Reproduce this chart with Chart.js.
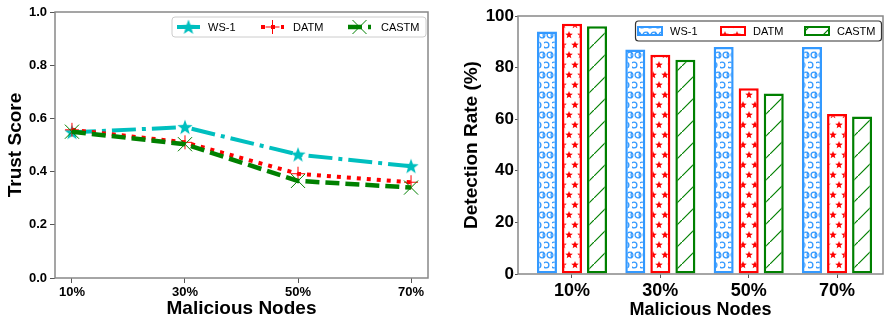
<!DOCTYPE html>
<html>
<head>
<meta charset="utf-8">
<script src="https://cdn.jsdelivr.net/npm/chart.js@4.4.1/dist/chart.umd.min.js"></script>
<style>
  body { margin: 0; background: #fff; }
  #wrap { position: relative; width: 884px; height: 321px; }
  .pane { position: absolute; top: 0; height: 321px; }
</style>
</head>
<body>
<div id="wrap">
  <div class="pane" style="left:0;width:440px"><canvas id="trustChart"></canvas></div>
  <div class="pane" style="left:440px;width:444px"><canvas id="detChart"></canvas></div>
</div>
<script>
// categories
const nodeLabels = ['10%', '30%', '50%', '70%'];
const seriesNames = ['WS-1', 'DATM', 'CASTM'];

// left: trust score
const trustWS1 = [0.548, 0.567, 0.464, 0.42];
const trustDATM = [0.557, 0.51, 0.392, 0.36];
const trustCASTM = [0.55, 0.503, 0.365, 0.34];

// right: detection rate (%)
const detWS1 = [94, 87, 88, 88];
const detDATM = [97, 85, 72, 62];
const detCASTM = [96, 83, 70, 61];

const FONT = "'Liberation Sans', Arial, sans-serif";
const CYAN = '#00bfbf', RED = '#ff0000', GREEN = '#008000', BLUE = '#3399ff';

function toPoints(arr) {
    return arr.map((v, i) => ({ x: i, y: v }));
}

function starPath(ctx, cx, cy, ro, ri) {
    ctx.beginPath();
    for (let k = 0; k < 10; k++) {
        const r = k % 2 === 0 ? ro : ri;
        const a = -Math.PI / 2 + k * Math.PI / 5;
        const px = cx + r * Math.cos(a), py = cy + r * Math.sin(a);
        if (k === 0) ctx.moveTo(px, py); else ctx.lineTo(px, py);
    }
    ctx.closePath();
}

// marker image for the WS-1 line
const starImg = document.createElement('canvas');
starImg.width = 16; starImg.height = 16;
(function() {
    const c = starImg.getContext('2d');
    c.fillStyle = CYAN;
    starPath(c, 8, 8.5, 8, 3.3);
    c.fill();
})();

// hatch tiles
function makePattern(w, h, draw) {
    const c = document.createElement('canvas');
    c.width = w; c.height = h;
    const g = c.getContext('2d');
    g.fillStyle = '#fff';
    g.fillRect(0, 0, w, h);
    draw(g);
    return g.createPattern(c, 'repeat');
}
const circlePat = makePattern(8, 20, g => {
    g.strokeStyle = BLUE; g.lineWidth = 1.3;
    [[2, 5], [6, 15], [10, 15], [-2, 15]].forEach(p => {
        g.beginPath(); g.arc(p[0], p[1], 2.9, 0, Math.PI * 2); g.stroke();
    });
});
const starPat = makePattern(12, 20, g => {
    g.fillStyle = RED;
    [[3, 5], [9, 15], [15, 5], [-3, 15]].forEach(p => {
        starPath(g, p[0], p[1], 4, 1.7); g.fill();
    });
});
const diagPat = makePattern(22, 22, g => {
    g.strokeStyle = GREEN; g.lineWidth = 1.2;
    g.beginPath(); g.moveTo(-1, 23); g.lineTo(23, -1); g.stroke();
});

// box around the plot area, like a matplotlib axes frame
const framePlugin = {
    id: 'frame',
    afterDraw(chart) {
        const { ctx, chartArea: a } = chart;
        ctx.save();
        ctx.strokeStyle = '#888';
        ctx.lineWidth = 1.5;
        ctx.strokeRect(a.left, a.top, a.right - a.left, a.bottom - a.top);
        ctx.restore();
    }
};

function roundBox(ctx, x, y, w, h, r) {
    ctx.beginPath();
    ctx.moveTo(x + r, y);
    ctx.arcTo(x + w, y, x + w, y + h, r);
    ctx.arcTo(x + w, y + h, x, y + h, r);
    ctx.arcTo(x, y + h, x, y, r);
    ctx.arcTo(x, y, x + w, y, r);
    ctx.closePath();
}

const lineLegend = {
    id: 'lineLegend',
    afterDraw(chart) {
        const ctx = chart.ctx;
        ctx.save();
        roundBox(ctx, 172, 17, 254, 20, 3);
        ctx.fillStyle = 'rgba(255,255,255,0.8)';
        ctx.fill();
        ctx.strokeStyle = '#cccccc';
        ctx.lineWidth = 1;
        ctx.stroke();
        const y = 27;
        const items = [
            { x0: 177, tx: 208, ds: chart.data.datasets[0] },
            { x0: 261, tx: 293, ds: chart.data.datasets[1] },
            { x0: 348, tx: 381, ds: chart.data.datasets[2] }
        ];
        items.forEach((it, i) => {
            ctx.strokeStyle = it.ds.borderColor;
            ctx.lineWidth = it.ds.borderWidth;
            ctx.setLineDash(it.ds.borderDash);
            ctx.beginPath(); ctx.moveTo(it.x0, y); ctx.lineTo(it.x0 + 23, y); ctx.stroke();
            ctx.setLineDash([]);
            const cx = it.x0 + 11.5;
            if (i === 0) {
                ctx.drawImage(starImg, cx - 8, y - 8);
            } else if (i === 1) {
                ctx.lineWidth = 1;
                ctx.beginPath();
                ctx.moveTo(cx - 7, y); ctx.lineTo(cx + 7, y);
                ctx.moveTo(cx, y - 7); ctx.lineTo(cx, y + 7);
                ctx.stroke();
            } else {
                ctx.lineWidth = 1;
                ctx.beginPath();
                ctx.moveTo(cx - 7, y - 7); ctx.lineTo(cx + 7, y + 7);
                ctx.moveTo(cx - 7, y + 7); ctx.lineTo(cx + 7, y - 7);
                ctx.stroke();
            }
            ctx.fillStyle = '#000';
            ctx.font = '11px ' + FONT;
            ctx.textBaseline = 'middle';
            ctx.fillText(it.ds.label, it.tx, y + 1);
        });
        ctx.restore();
    }
};

const barLegend = {
    id: 'barLegend',
    afterDraw(chart) {
        const ctx = chart.ctx;
        ctx.save();
        roundBox(ctx, 195.5, 21, 246, 20, 3);
        ctx.fillStyle = '#fff';
        ctx.fill();
        ctx.strokeStyle = '#333';
        ctx.lineWidth = 1.2;
        ctx.stroke();
        const xs = [[198, 230], [281, 313], [365, 397]];
        chart.data.datasets.forEach((ds, i) => {
            const x = xs[i][0];
            ctx.fillStyle = ds.backgroundColor;
            ctx.fillRect(x, 27, 24, 8);
            ctx.strokeStyle = ds.borderColor;
            ctx.lineWidth = 2;
            ctx.strokeRect(x, 27, 24, 8);
            ctx.fillStyle = '#000';
            ctx.font = '11px ' + FONT;
            ctx.textBaseline = 'middle';
            ctx.fillText(ds.label, xs[i][1], 31.5);
        });
        ctx.restore();
    }
};

function catTick(value) {
    return Number.isInteger(value) ? nodeLabels[value] : '';
}

new Chart(document.getElementById('trustChart'), {
    type: 'line',
    data: {
        datasets: [
            {
                label: seriesNames[0], data: toPoints(trustWS1),
                borderColor: CYAN, backgroundColor: CYAN, borderWidth: 4,
                borderDash: [24, 6, 4, 6], pointStyle: starImg, pointRadius: 8, order: 3
            },
            {
                label: seriesNames[1], data: toPoints(trustDATM),
                borderColor: RED, backgroundColor: RED, borderWidth: 4,
                borderDash: [4, 6], pointStyle: 'cross', pointRadius: 7,
                pointBorderWidth: 1, order: 2
            },
            {
                label: seriesNames[2], data: toPoints(trustCASTM),
                borderColor: GREEN, backgroundColor: GREEN, borderWidth: 4.5,
                borderDash: [14, 6], pointStyle: 'crossRot', pointRadius: 10,
                pointBorderWidth: 1, order: 1
            }
        ]
    },
    options: {
        responsive: true,
        maintainAspectRatio: false,
        animation: false,
        layout: { padding: { top: 11, right: 9, left: 0, bottom: 0 } },
        plugins: { legend: { display: false }, tooltip: { enabled: false } },
        scales: {
            x: {
                type: 'linear', min: -0.15, max: 3.15,
                afterFit: s => { s.height = 43; },
                grid: { drawOnChartArea: false, tickLength: 5, color: '#555' },
                border: { display: false },
                ticks: {
                    stepSize: 1, includeBounds: false, autoSkip: false, maxRotation: 0,
                    callback: catTick, padding: 2, color: '#000',
                    font: { family: FONT, size: 13, weight: 'bold' }
                },
                title: {
                    display: true, text: 'Malicious Nodes', color: '#000',
                    padding: { top: 0, bottom: 1 },
                    font: { family: FONT, size: 19, weight: 'bold' }
                }
            },
            y: {
                min: 0, max: 1,
                afterFit: s => { s.width = 55; },
                grid: { drawOnChartArea: false, tickLength: 5, color: '#555' },
                border: { display: false },
                ticks: {
                    stepSize: 0.2, padding: 3, color: '#000',
                    callback: v => v.toFixed(1),
                    font: { family: FONT, size: 13, weight: 'bold' }
                },
                title: {
                    display: true, text: 'Trust Score', color: '#000',
                    padding: { top: 4, bottom: 0 },
                    font: { family: FONT, size: 19, weight: 'bold' }
                }
            }
        }
    },
    plugins: [framePlugin, lineLegend]
});

new Chart(document.getElementById('detChart'), {
    type: 'bar',
    data: {
        datasets: [
            { label: seriesNames[0], data: toPoints(detWS1), backgroundColor: circlePat, borderColor: BLUE },
            { label: seriesNames[1], data: toPoints(detDATM), backgroundColor: starPat, borderColor: RED },
            { label: seriesNames[2], data: toPoints(detCASTM), backgroundColor: diagPat, borderColor: GREEN }
        ]
    },
    options: {
        responsive: true,
        maintainAspectRatio: false,
        animation: false,
        layout: { padding: { top: 16, right: 1, left: 0, bottom: 0 } },
        datasets: {
            bar: { categoryPercentage: 0.85, barPercentage: 0.8, borderWidth: 2.5, borderSkipped: false }
        },
        plugins: { legend: { display: false }, tooltip: { enabled: false } },
        scales: {
            x: {
                type: 'linear', min: -0.611, max: 3.52, offset: false,
                afterFit: s => { s.height = 47; },
                grid: { drawOnChartArea: false, offset: false, tickLength: 4, color: '#555' },
                border: { display: false },
                ticks: {
                    stepSize: 1, includeBounds: false, autoSkip: false, maxRotation: 0,
                    callback: catTick, padding: 2, color: '#000',
                    font: { family: FONT, size: 18, weight: 'bold' }
                },
                title: {
                    display: true, text: 'Malicious Nodes', color: '#000',
                    padding: { top: 0, bottom: 0 },
                    font: { family: FONT, size: 18, weight: 'bold' }
                }
            },
            y: {
                min: 0, max: 100,
                afterFit: s => { s.width = 78; },
                grid: { drawOnChartArea: false, tickLength: 3, color: '#555' },
                border: { display: false },
                ticks: {
                    stepSize: 20, padding: 1, color: '#000',
                    font: { family: FONT, size: 17, weight: 'bold' }
                },
                title: {
                    display: true, text: 'Detection Rate (%)', color: '#000',
                    padding: { top: 20, bottom: 0 },
                    font: { family: FONT, size: 19, weight: 'bold' }
                }
            }
        }
    },
    plugins: [framePlugin, barLegend]
});
</script>
</body>
</html>
